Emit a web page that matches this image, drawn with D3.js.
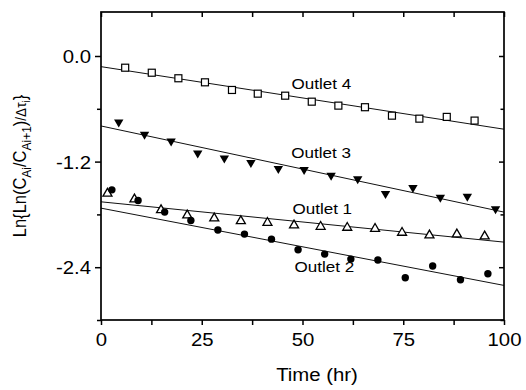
<!DOCTYPE html>
<html>
<head>
<meta charset="utf-8">
<script src="https://cdn.jsdelivr.net/npm/d3@7/dist/d3.min.js"></script>
<style>
  body { margin: 0; background: #fff; }
  svg { display: block; }
  text { font-family: "Liberation Sans", Arial, sans-serif; fill: #000; }
</style>
</head>
<body>
<svg id="chart" width="526" height="390"></svg>
<script>
// Measured rate data, Ln{Ln(C_Ai/C_Ai+1)/Δτ_i} versus time (hr)
const outlet1Time  = [1.6, 8.3, 14.9, 21.4, 28.1, 34.7, 41.3, 47.9, 54.5, 61.1, 68.0, 74.7, 81.5, 88.3, 95.2];
const outlet1Value = [-1.55, -1.615, -1.737, -1.797, -1.831, -1.862, -1.881, -1.91, -1.926, -1.937, -1.949, -1.994, -2.024, -2.013, -2.035];

const outlet2Time  = [2.7, 9.2, 15.8, 22.3, 29.0, 35.6, 42.3, 48.9, 55.5, 62.0, 68.7, 75.5, 82.3, 89.2, 96.0];
const outlet2Value = [-1.521, -1.642, -1.774, -1.869, -1.978, -2.024, -2.081, -2.202, -2.251, -2.308, -2.319, -2.52, -2.387, -2.543, -2.474];

const outlet3Time  = [4.4, 10.8, 17.4, 24.0, 30.6, 37.2, 44.0, 50.4, 57.1, 63.7, 70.6, 77.4, 84.2, 90.9, 97.9];
const outlet3Value = [-0.764, -0.905, -0.981, -1.117, -1.174, -1.226, -1.294, -1.305, -1.37, -1.411, -1.578, -1.51, -1.62, -1.608, -1.751];

const outlet4Time  = [6.0, 12.6, 19.2, 25.8, 32.5, 38.9, 45.7, 52.3, 58.9, 65.5, 72.2, 79.0, 85.8, 92.7];
const outlet4Value = [-0.133, -0.19, -0.253, -0.299, -0.386, -0.428, -0.451, -0.519, -0.564, -0.582, -0.678, -0.712, -0.692, -0.734];

// Linear fits (intercept at t = 0, slope per hr), outlets 1..4
const fitNames     = ["Outlet 1", "Outlet 2", "Outlet 3", "Outlet 4"];
const fitIntercept = [-1.657, -1.729, -0.795, -0.121];
const fitSlope     = [-0.00458, -0.00878, -0.00979, -0.00711];

// Axis ticks
const xMajorTicks = [0, 25, 50, 75, 100];
const xMinorTicks = [12.5, 37.5, 62.5, 87.5];
const yMajorTicks = [0.0, -1.2, -2.4];
const yMinorTicks = [-0.6, -1.8, -3.0];

const svg = d3.select("#chart");
const plotL = 101, plotR = 504, plotT = 12, plotB = 320;
const stretch = 1.1;

const x = d3.scaleLinear().domain([0, 100]).range([plotL, plotR]);
const y = d3.scaleLinear().domain([-3.0, 0.5]).range([plotB, plotT]);

// Fitted lines
const fitLine = d3.line().x(d => x(d[0])).y(d => y(d[1]));
fitIntercept.forEach((b, i) => {
  svg.append("path")
    .attr("d", fitLine([[0, b], [100, b + fitSlope[i] * 100]]))
    .attr("fill", "none").attr("stroke", "#111").attr("stroke-width", 1);
});

// Markers
const g = svg.append("g");
// Outlet 1: open up-triangles
g.selectAll(".o1").data(d3.zip(outlet1Time, outlet1Value)).join("path")
  .attr("d", "M0,-4 L4.5,3.8 L-4.5,3.8 Z")
  .attr("transform", d => `translate(${x(d[0])},${y(d[1])})`)
  .attr("fill", "#fff").attr("stroke", "#000").attr("stroke-width", 1.3);
// Outlet 2: filled circles
g.selectAll(".o2").data(d3.zip(outlet2Time, outlet2Value)).join("circle")
  .attr("cx", d => x(d[0])).attr("cy", d => y(d[1])).attr("r", 3.7)
  .attr("fill", "#000");
// Outlet 3: filled down-triangles
g.selectAll(".o3").data(d3.zip(outlet3Time, outlet3Value)).join("path")
  .attr("d", "M-4.7,-3.8 L4.7,-3.8 L0,4.2 Z")
  .attr("transform", d => `translate(${x(d[0])},${y(d[1])})`)
  .attr("fill", "#000");
// Outlet 4: open squares
g.selectAll(".o4").data(d3.zip(outlet4Time, outlet4Value)).join("rect")
  .attr("x", d => x(d[0]) - 3.5).attr("y", d => y(d[1]) - 3.5)
  .attr("width", 7).attr("height", 7)
  .attr("fill", "#fff").attr("stroke", "#000").attr("stroke-width", 1.2);

// Series labels
const labelPos = [[47.5, -1.79], [48, -2.45], [47.2, -1.16], [47.3, -0.37]];
fitNames.forEach((name, i) => {
  svg.append("text")
    .attr("transform", `translate(${x(labelPos[i][0])},${y(labelPos[i][1])}) scale(${stretch},1)`)
    .attr("font-size", 15.5).text(name);
});

// Frame
svg.append("rect").attr("x", plotL).attr("y", plotT)
  .attr("width", plotR - plotL).attr("height", plotB - plotT)
  .attr("fill", "none").attr("stroke", "#000").attr("stroke-width", 1.7);

function styleAxis(sel) {
  sel.select(".domain").remove();
  sel.selectAll(".tick line").attr("stroke", "#000").attr("stroke-width", 1.5);
}

// Bottom axis (outward ticks)
svg.append("g").attr("transform", `translate(0,${plotB})`)
  .call(d3.axisBottom(x).tickValues(xMinorTicks).tickSize(5).tickFormat(""))
  .call(styleAxis);
const xb = svg.append("g").attr("transform", `translate(0,${plotB})`)
  .call(d3.axisBottom(x).tickValues(xMajorTicks).tickSize(5).tickFormat(d3.format("d")))
  .call(styleAxis);
xb.selectAll(".tick text")
  .attr("y", null).attr("dy", null)
  .attr("transform", `translate(0,26) scale(${stretch},1)`)
  .attr("font-size", 18.5).attr("font-family", '"Liberation Sans", Arial, sans-serif');

// Left axis (outward ticks)
svg.append("g").attr("transform", `translate(${plotL},0)`)
  .call(d3.axisLeft(y).tickValues(yMinorTicks).tickSize(4).tickFormat(""))
  .call(styleAxis);
const yl = svg.append("g").attr("transform", `translate(${plotL},0)`)
  .call(d3.axisLeft(y).tickValues(yMajorTicks).tickSize(6).tickFormat(d3.format(".1f")))
  .call(styleAxis);
yl.selectAll(".tick text")
  .attr("x", null).attr("dy", "0.35em")
  .attr("transform", `translate(-10,0) scale(${stretch},1)`)
  .attr("font-size", 18.5).attr("font-family", '"Liberation Sans", Arial, sans-serif')
  .text(d => d3.format(".1f")(d).replace("−", "-"));

// Top and right axes (inward ticks)
svg.append("g").attr("transform", `translate(0,${plotT})`)
  .call(d3.axisTop(x).tickValues(xMajorTicks.concat(xMinorTicks)).tickSize(-5).tickFormat(""))
  .call(styleAxis);
svg.append("g").attr("transform", `translate(${plotR},0)`)
  .call(d3.axisRight(y).tickValues(yMajorTicks).tickSize(-5).tickFormat(""))
  .call(styleAxis);
svg.append("g").attr("transform", `translate(${plotR},0)`)
  .call(d3.axisRight(y).tickValues(yMinorTicks).tickSize(-3.5).tickFormat(""))
  .call(styleAxis);

// Axis titles
svg.append("text")
  .attr("transform", `translate(317,381) scale(${stretch},1)`)
  .attr("text-anchor", "middle").attr("font-size", 18.5).text("Time (hr)");

const yt = svg.append("text")
  .attr("transform", `translate(26,166) scale(${stretch},1) rotate(-90)`)
  .attr("text-anchor", "middle").attr("font-size", 16.5);
yt.append("tspan").text("Ln{Ln(C");
yt.append("tspan").attr("font-size", 12).attr("dy", 4.5).text("Ai");
yt.append("tspan").attr("dy", -4.5).text("/C");
yt.append("tspan").attr("font-size", 12).attr("dy", 4.5).text("Ai+1");
yt.append("tspan").attr("dy", -4.5).text(")");
yt.append("tspan").attr("font-size", 13.5).text("/Δτ");
yt.append("tspan").attr("font-size", 10).attr("dy", 3.5).text("i");
yt.append("tspan").attr("dy", -3.5).text("}");
</script>
</body>
</html>
